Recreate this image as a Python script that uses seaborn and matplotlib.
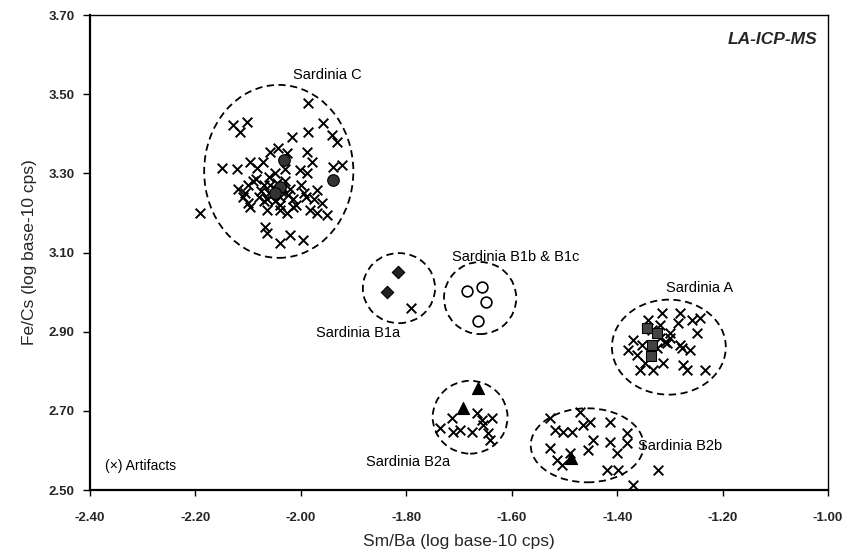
import matplotlib
matplotlib.use("Agg")
import matplotlib.pyplot as plt
from matplotlib.patches import Ellipse
import seaborn as sns
import pandas as pd

sns.set_theme(style="white")
plt.rcParams["font.family"] = ["Liberation Sans", "DejaVu Sans"]

# Artifact measurements (x = Sm/Ba, y = Fe/Cs, log base-10 cps)
artifact_x = [
    # Sardinia C
    -1.986, -2.129, -2.102, -2.115, -1.958, -1.986, -2.017, -1.941, -1.931,
    -2.150, -2.121, -2.059, -2.043, -2.026, -1.988, -1.979, -1.939, -1.922,
    -2.191, -2.096, -2.083, -2.072, -2.002, -1.988, -1.969, -2.106, -2.100,
    -2.096, -2.064, -2.040, -2.026, -2.015, -1.983, -1.969, -1.960, -1.950,
    -2.068, -2.064, -2.040, -2.021, -1.996,
    -2.090, -2.070, -2.050, -2.040, -2.060, -2.030, -2.080, -2.020, -2.050,
    -2.100, -2.000, -2.040, -2.070, -2.110, -2.030, -2.060, -1.990, -2.010,
    -2.120, -2.050, -2.075, -2.055, -2.035, -2.045, -2.065, -2.025, -2.085,
    -2.015, -2.058, -2.038, -1.975, -1.995,
    # Sardinia B1a
    -1.791,
    # Sardinia A
    -1.341, -1.315, -1.281, -1.258, -1.243, -1.285, -1.319, -1.249, -1.370,
    -1.379, -1.353, -1.362, -1.281, -1.262, -1.277, -1.319, -1.305, -1.347,
    -1.357, -1.313, -1.332, -1.275, -1.267, -1.233, -1.334, -1.300, -1.310,
    -1.325, -1.300,
    # Sardinia B2a
    -1.713, -1.666, -1.656, -1.637, -1.736, -1.711, -1.698, -1.675, -1.645,
    -1.641, -1.654,
    # Sardinia B2b
    -1.527, -1.470, -1.518, -1.503, -1.486, -1.465, -1.451, -1.414, -1.381,
    -1.446, -1.414, -1.381, -1.527, -1.489, -1.455, -1.400, -1.514, -1.505,
    -1.419, -1.398, -1.323, -1.370,
]
artifact_y = [
    3.478, 3.422, 3.430, 3.404, 3.427, 3.404, 3.392, 3.397, 3.379,
    3.313, 3.311, 3.354, 3.364, 3.351, 3.354, 3.329, 3.316, 3.321,
    3.200, 3.329, 3.313, 3.329, 3.308, 3.301, 3.258, 3.250, 3.225,
    3.215, 3.207, 3.207, 3.200, 3.215, 3.207, 3.200, 3.225, 3.195,
    3.164, 3.149, 3.124, 3.144, 3.131,
    3.280, 3.270, 3.260, 3.240, 3.250, 3.280, 3.240, 3.260, 3.300,
    3.270, 3.270, 3.220, 3.230, 3.240, 3.310, 3.290, 3.240, 3.220,
    3.260, 3.230, 3.255, 3.245, 3.265, 3.275, 3.235, 3.245, 3.285,
    3.235, 3.270, 3.255, 3.235, 3.250,
    2.960,
    2.929, 2.947, 2.947, 2.929, 2.934, 2.922, 2.917, 2.896, 2.879,
    2.853, 2.866, 2.841, 2.866, 2.853, 2.858, 2.884, 2.871, 2.821,
    2.803, 2.821, 2.803, 2.816, 2.803, 2.803, 2.904, 2.896, 2.875,
    2.860, 2.885,
    2.682, 2.694, 2.677, 2.682, 2.656, 2.646, 2.651, 2.646, 2.644,
    2.626, 2.664,
    2.682, 2.697, 2.651, 2.646, 2.646, 2.664, 2.672, 2.672, 2.644,
    2.626, 2.621, 2.618, 2.606, 2.593, 2.601, 2.593, 2.575, 2.563,
    2.550, 2.550, 2.550, 2.512,
]

# Reference source samples
circle_x = [-2.032, -1.939, -2.040, -2.050]
circle_y = [3.334, 3.283, 3.265, 3.250]
diamond_x = [-1.816, -1.837]
diamond_y = [3.051, 3.000]
open_x = [-1.685, -1.656, -1.649, -1.664]
open_y = [3.003, 3.013, 2.975, 2.927]
square_x = [-1.343, -1.324, -1.334, -1.336]
square_y = [2.909, 2.896, 2.866, 2.838]
triangle_x = [-1.664, -1.692, -1.487]
triangle_y = [2.757, 2.707, 2.580]

# Group envelopes and their labels
groups = ["Sardinia C", "Sardinia B1a", "Sardinia B1b & B1c", "Sardinia A",
          "Sardinia B2a", "Sardinia B2b"]
group_cx = [-2.042, -1.814, -1.660, -1.302, -1.679, -1.457]
group_cy = [3.305, 3.010, 2.985, 2.861, 2.684, 2.613]
group_w = [0.283, 0.137, 0.137, 0.216, 0.142, 0.214]
group_h = [0.437, 0.177, 0.182, 0.240, 0.184, 0.187]
label_x = [-1.950, -1.892, -1.592, -1.243, -1.797, -1.281]
label_y = [3.548, 2.896, 3.088, 3.010, 2.570, 2.611]

x_ticks = [-2.40, -2.20, -2.00, -1.80, -1.60, -1.40, -1.20, -1.00]
y_ticks = [2.50, 2.70, 2.90, 3.10, 3.30, 3.50, 3.70]

fig = plt.figure(figsize=(8.68, 5.5), dpi=100)
ax = fig.add_axes([0.1037, 0.109, 0.8503, 0.8637])

art = pd.DataFrame({"x": artifact_x, "y": artifact_y})
sns.scatterplot(data=art, x="x", y="y", marker="x", s=48, color="black",
                linewidth=1.4, ax=ax, zorder=3)

for xs, ys, m, fc, sz in [
    (circle_x, circle_y, "o", "#333333", 70),
    (diamond_x, diamond_y, "D", "#222222", 40),
    (square_x, square_y, "s", "#444444", 55),
    (triangle_x, triangle_y, "^", "black", 75),
]:
    sns.scatterplot(x=xs, y=ys, marker=m, s=sz, color=fc, edgecolor="black",
                    linewidth=0.8, ax=ax, zorder=4)
sns.scatterplot(x=open_x, y=open_y, marker="o", s=60, facecolor="white",
                edgecolor="black", linewidth=1.2, ax=ax, zorder=4)

for cx, cy, w, h in zip(group_cx, group_cy, group_w, group_h):
    ax.add_patch(Ellipse((cx, cy), w, h, fill=False, edgecolor="black",
                         linestyle=(0, (4, 2.5)), linewidth=1.3, zorder=2))

for name, lx, ly in zip(groups, label_x, label_y):
    ax.text(lx, ly, name, ha="center", va="center", fontsize=10.5,
            color="black")

ax.text(-2.372, 2.560, "(\u00d7) Artifacts", ha="left", va="center",
        fontsize=10, color="black")
ax.text(0.985, 0.965, "LA-ICP-MS", transform=ax.transAxes, ha="right",
        va="top", fontsize=12.5, fontweight="bold", fontstyle="italic")

ax.set_xlim(-2.40, -1.00)
ax.set_ylim(2.50, 3.70)
ax.set_xticks(x_ticks)
ax.set_yticks(y_ticks)
ax.set_xticklabels([f"{v:.2f}" for v in x_ticks], fontsize=9.5,
                   fontweight="bold")
ax.set_yticklabels([f"{v:.2f}" for v in y_ticks], fontsize=9.5,
                   fontweight="bold")
ax.tick_params(axis="x", direction="out", length=4, width=1.0,
               color="black", bottom=True, pad=12)
ax.tick_params(axis="y", direction="out", length=5, width=1.0,
               color="black", left=True, pad=6)
ax.set_xlabel("Sm/Ba (log base-10 cps)", fontsize=12.5, labelpad=7)
ax.set_ylabel("Fe/Cs (log base-10 cps)", fontsize=12.5, labelpad=8)
for side, sp in ax.spines.items():
    sp.set_color("black")
    sp.set_linewidth(1.0)
ax.spines["left"].set_linewidth(1.6)
ax.spines["bottom"].set_linewidth(1.6)
ax.grid(False)

fig.savefig("out.png", dpi=100, facecolor="white")
